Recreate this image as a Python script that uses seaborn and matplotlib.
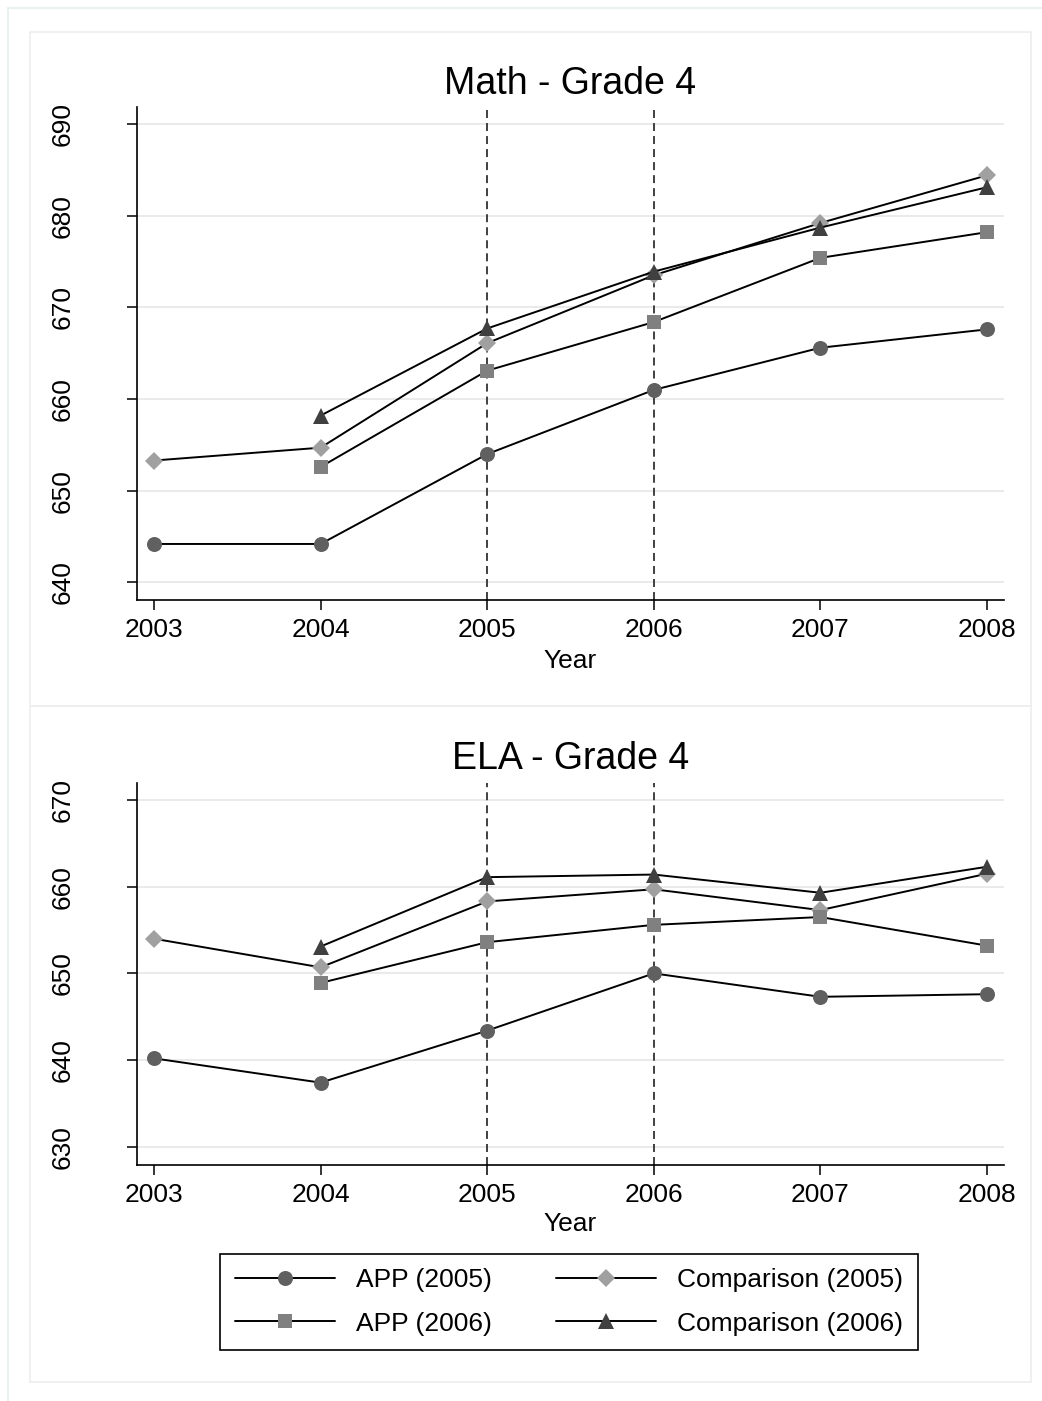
"""
Test score chart: APP vs comparison schools, Grade 4
Math and ELA panels, 2003-2008
"""

import matplotlib
matplotlib.use('Agg')
import matplotlib.pyplot as plt
from matplotlib.patches import Rectangle
import seaborn as sns

years = [2003, 2004, 2005, 2006, 2007, 2008]

# Math - Grade 4 (None = no score that year)
math_app_2005 = [644.2, 644.2, 654.0, 661.0, 665.6, 667.6]
math_comp_2005 = [653.3, 654.7, 666.1, 673.5, 679.2, 684.4]
math_app_2006 = [None, 652.6, 663.1, 668.4, 675.4, 678.2]
math_comp_2006 = [None, 658.2, 667.7, 673.9, 678.7, 683.1]

# ELA - Grade 4
ela_app_2005 = [640.2, 637.4, 643.4, 650.0, 647.3, 647.6]
ela_comp_2005 = [654.0, 650.7, 658.3, 659.7, 657.3, 661.5]
ela_app_2006 = [None, 648.9, 653.6, 655.6, 656.5, 653.2]
ela_comp_2006 = [None, 653.1, 661.1, 661.4, 659.3, 662.3]

series_labels = ['APP (2005)', 'Comparison (2005)', 'APP (2006)', 'Comparison (2006)']
math_yticks = [640, 650, 660, 670, 680, 690]
ela_yticks = [630, 640, 650, 660, 670]
program_years = [2005, 2006]

W, H = 1042, 1401

# marker style per series (Stata s2mono look)
styles = {
    'APP (2005)': {'marker': 'o', 'size': 10.8, 'color': '#606060'},
    'Comparison (2005)': {'marker': 'D', 'size': 9.3, 'color': '#a0a0a0'},
    'APP (2006)': {'marker': 's', 'size': 10.2, 'color': '#808080'},
    'Comparison (2006)': {'marker': '^', 'size': 11.0, 'color': '#404040'},
}


def px_rect(x0, y0, x1, y1, color, lw):
    """Rectangle given in pixel coords (top-left origin)"""
    return Rectangle((x0 / W, 1 - y1 / H), (x1 - x0) / W, (y1 - y0) / H,
                     transform=fig.transFigure, fill=False,
                     edgecolor=color, linewidth=lw, zorder=0)


def draw_panel(ax, series, yticks, ylim, title, title_y, xlabel_y):
    # dashed lines marking the program start years
    for yr in program_years:
        ax.axvline(yr, color='#404040', linestyle=(0, (4.1, 2.6)),
                   linewidth=1.4, zorder=1.5)

    for label, values in zip(series_labels, series):
        xs = [yr for yr, v in zip(years, values) if v is not None]
        ys = [v for v in values if v is not None]
        st = styles[label]
        sns.lineplot(x=xs, y=ys, ax=ax, color='black', linewidth=1.4,
                     marker=st['marker'], markersize=st['size'],
                     markerfacecolor=st['color'], markeredgecolor=st['color'],
                     markeredgewidth=0, label=label, legend=False,
                     errorbar=None)

    ax.set_xlim(2002.898, 2008.102)
    ax.set_ylim(*ylim)
    ax.set_xticks(years)
    ax.set_yticks(yticks)
    ax.set_xlabel('')
    ax.set_ylabel('')

    ax.grid(axis='y', color='#e8e8e8', linewidth=1.3)
    ax.grid(axis='x', visible=False)
    ax.set_axisbelow(True)

    for side in ['top', 'right']:
        ax.spines[side].set_visible(False)
    for side in ['left', 'bottom']:
        ax.spines[side].set_color('black')
        ax.spines[side].set_linewidth(1.2)

    ax.tick_params(axis='both', length=7.2, width=1.1, color='black',
                   labelcolor='black', labelsize=19, left=True, bottom=True)
    ax.tick_params(axis='x', pad=6)
    ax.tick_params(axis='y', pad=38)
    for lbl in ax.get_yticklabels():
        lbl.set_rotation(90)
        lbl.set_va('center')

    fig.text(570.5 / W, 1 - title_y / H, title, fontsize=27, color='black',
             ha='center', va='center')
    fig.text(570.5 / W, 1 - xlabel_y / H, 'Year', fontsize=19, color='black',
             ha='center', va='center')


sns.set_style('white')
plt.rcParams['font.family'] = ['Liberation Sans', 'DejaVu Sans']
plt.rcParams['text.color'] = 'black'

fig = plt.figure(figsize=(W / 100, H / 100), dpi=100)
fig.patch.set_facecolor('white')

# outer graph region and the two panel frames
fig.patches.append(px_rect(8, 8, W + 20, H + 20, '#e4eded', 1.2))
fig.patches.append(px_rect(30, 32, 1031, 706, '#eeeeee', 1.2))
fig.patches.append(px_rect(30, 706, 1031, 1382, '#eeeeee', 1.2))

ax_math = fig.add_axes([137 / W, 1 - 600 / H, 867 / W, 493 / H])
ax_ela = fig.add_axes([137 / W, 1 - 1165 / H, 867 / W, 382 / H])

draw_panel(ax_math, [math_app_2005, math_comp_2005, math_app_2006, math_comp_2006],
           math_yticks, (638.09, 691.85), 'Math - Grade 4', 84, 661)
draw_panel(ax_ela, [ela_app_2005, ela_comp_2005, ela_app_2006, ela_comp_2006],
           ela_yticks, (627.9, 671.96), 'ELA - Grade 4', 759, 1224)

# legend: rows are (APP 2005, Comparison 2005), (APP 2006, Comparison 2006)
handles, labels = ax_math.get_legend_handles_labels()
order = [0, 2, 1, 3]
leg = fig.legend([handles[i] for i in order], [labels[i] for i in order],
                 loc='center', bbox_to_anchor=(569 / W, 1 - 1302 / H),
                 ncol=2, fontsize=19, frameon=True, fancybox=False,
                 framealpha=1, edgecolor='black', handlelength=3.8,
                 handletextpad=0.8, columnspacing=2.4, labelspacing=0.72,
                 borderpad=0.55)
leg.get_frame().set_linewidth(1.2)

plt.savefig('out.png', dpi=100)
print("Saved: out.png")
